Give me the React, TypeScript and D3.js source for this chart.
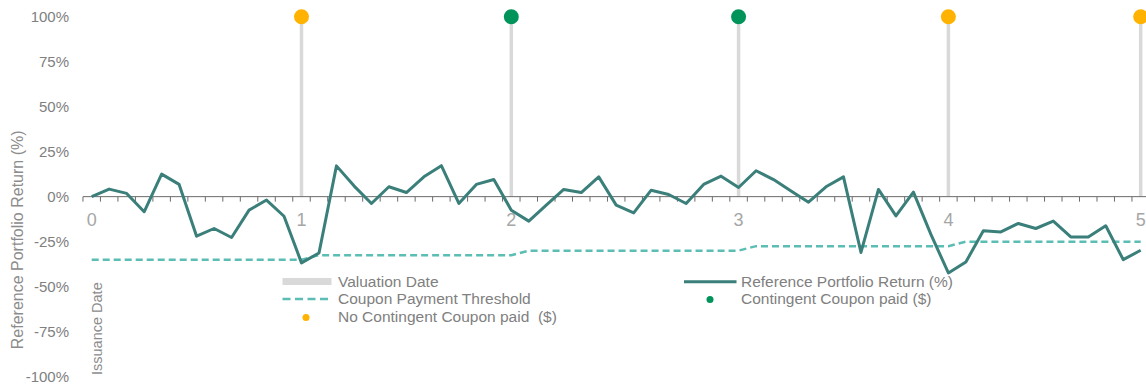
import React from "react";
import * as d3 from "d3";

const returnsPct: number[] = [
  0, 4.2, 1.8, -8.4, 12.5, 6.8, -22, -17.7, -22.7, -7.5, -1.9, -10.9, -36.8,
  -31.3, 17.1, 6, -3.8, 5.5, 2.3, 11, 17.2, -3.8, 6.8, 9.5, -7.5,
  -13.6, -4.7, 4, 2.3, 11, -4.7, -9, 3.6, 1.2, -3.8, 6.8, 11.4, 5.1,
  14.4, 9.5, 3.2, -3.1, 5.5, 11, -31, 4, -10.7, 2.5, -21, -42.4,
  -36.3, -19, -19.6, -14.9, -17.7, -13.6, -22.4, -22.4, -16.2, -35, -29.8,
];

const thresholdPct: number[] = [
  -35, -35, -35, -35, -35, -35, -35, -35, -35, -35, -35, -35, -35,
  -32.5, -32.5, -32.5, -32.5, -32.5, -32.5, -32.5, -32.5, -32.5, -32.5, -32.5, -32.5,
  -30, -30, -30, -30, -30, -30, -30, -30, -30, -30, -30, -30, -30,
  -27.5, -27.5, -27.5, -27.5, -27.5, -27.5, -27.5, -27.5, -27.5, -27.5, -27.5, -27.5,
  -25, -25, -25, -25, -25, -25, -25, -25, -25, -25, -25,
];

const xTickIndex: number[] = [0, 12, 24, 37, 49, 60];
const xTickLabels: string[] = ["0", "1", "2", "3", "4", "5"];
const valuationIndex: number[] = [12, 24, 37, 49, 60];
const couponPaid: boolean[] = [false, true, true, false, false];
const yTicks: number[] = [100, 75, 50, 25, 0, -25, -50, -75, -100];

const FONT = "'Liberation Sans', Arial, sans-serif";
const LINE = "#3a7f7a";
const DASH = "#5bbdb4";
const GREY = "#d9d9d9";
const ORANGE = "#ffb300";
const GREEN = "#00935a";

export default function App() {
  const idx = returnsPct.map((_, i) => i);
  const x = d3.scalePoint<number>().domain(idx).range([91.7, 1140.7]);
  const y = d3.scaleLinear().domain([-100, 100]).range([376.6, 16.7]);
  const step = x.step();

  const retLine = d3
    .line<number>()
    .x((_, i) => x(i) as number)
    .y((d) => y(d))(returnsPct) as string;
  const thrLine = d3
    .line<number>()
    .x((_, i) => x(i) as number)
    .y((d) => y(d))(thresholdPct) as string;

  const tickXs = d3.range(returnsPct.length + 1).map((i) => (x(0) as number) + (i - 0.5) * step);

  return (
    <svg
      width={1146}
      height={384}
      style={{ position: "absolute", left: 0, top: 0, background: "#fff" }}
      fontFamily={FONT}
    >
      {/* y tick labels */}
      {yTicks.map((t) => (
        <text
          key={t}
          x={69}
          y={y(t)}
          textAnchor="end"
          dominantBaseline="central"
          fontSize={15}
          fill="#808080"
        >
          {`${t}%`}
        </text>
      ))}
      {/* y axis title */}
      <text
        transform={`translate(17,${y(-24)}) rotate(-90)`}
        textAnchor="middle"
        dominantBaseline="central"
        fontSize={16}
        fill="#8c8c8c"
      >
        Reference Portfolio Return (%)
      </text>
      {/* valuation date lines */}
      {valuationIndex.map((vi) => (
        <line
          key={vi}
          x1={x(vi)}
          x2={x(vi)}
          y1={y(0)}
          y2={y(100)}
          stroke={GREY}
          strokeWidth={3.5}
        />
      ))}
      {/* x axis line and ticks */}
      <line x1={tickXs[0]} x2={1146} y1={y(0)} y2={y(0)} stroke="#6b6b6b" strokeWidth={1} />
      {tickXs.map((tx, i) => (
        <line key={i} x1={tx} x2={tx} y1={y(0)} y2={y(0) + 5} stroke="#6b6b6b" strokeWidth={1} />
      ))}
      {xTickIndex.map((ti, i) => (
        <text
          key={ti}
          x={x(ti)}
          y={226}
          textAnchor="middle"
          fontSize={18}
          fill="#a6a6a6"
        >
          {xTickLabels[i]}
        </text>
      ))}
      <text
        transform={`translate(97,375) rotate(-90)`}
        textAnchor="start"
        dominantBaseline="central"
        fontSize={14.5}
        fill="#8c8c8c"
      >
        Issuance Date
      </text>
      {/* threshold */}
      <path d={thrLine} fill="none" stroke={DASH} strokeWidth={2.5} strokeDasharray="7 4" />
      {/* returns */}
      <path d={retLine} fill="none" stroke={LINE} strokeWidth={3} strokeLinejoin="round" />
      {/* coupon dots */}
      {valuationIndex.map((vi, i) => (
        <circle key={vi} cx={x(vi)} cy={y(100)} r={7.5} fill={couponPaid[i] ? GREEN : ORANGE} />
      ))}
      {/* legend */}
      <g fontSize={15.5} fill="#808080">
        <rect x={282.5} y={278} width={49} height={7} fill={GREY} />
        <text x={338} y={281.7} dominantBaseline="central">Valuation Date</text>
        <line x1={282.5} x2={331.5} y1={299} y2={299} stroke={DASH} strokeWidth={2.5} strokeDasharray="8 4.5" />
        <text x={338} y={298.5} dominantBaseline="central">Coupon Payment Threshold</text>
        <circle cx={306} cy={317.5} r={3.5} fill={ORANGE} />
        <text x={338} y={316} dominantBaseline="central" style={{ whiteSpace: "pre" }}>
          {"No Contingent Coupon paid  ($)"}
        </text>
        <line x1={684} x2={736.5} y1={281.7} y2={281.7} stroke={LINE} strokeWidth={3} />
        <text x={741} y={281.7} dominantBaseline="central">Reference Portfolio Return (%)</text>
        <circle cx={710} cy={299.5} r={3.5} fill={GREEN} />
        <text x={741} y={298.5} dominantBaseline="central">Contingent Coupon paid ($)</text>
      </g>
    </svg>
  );
}
